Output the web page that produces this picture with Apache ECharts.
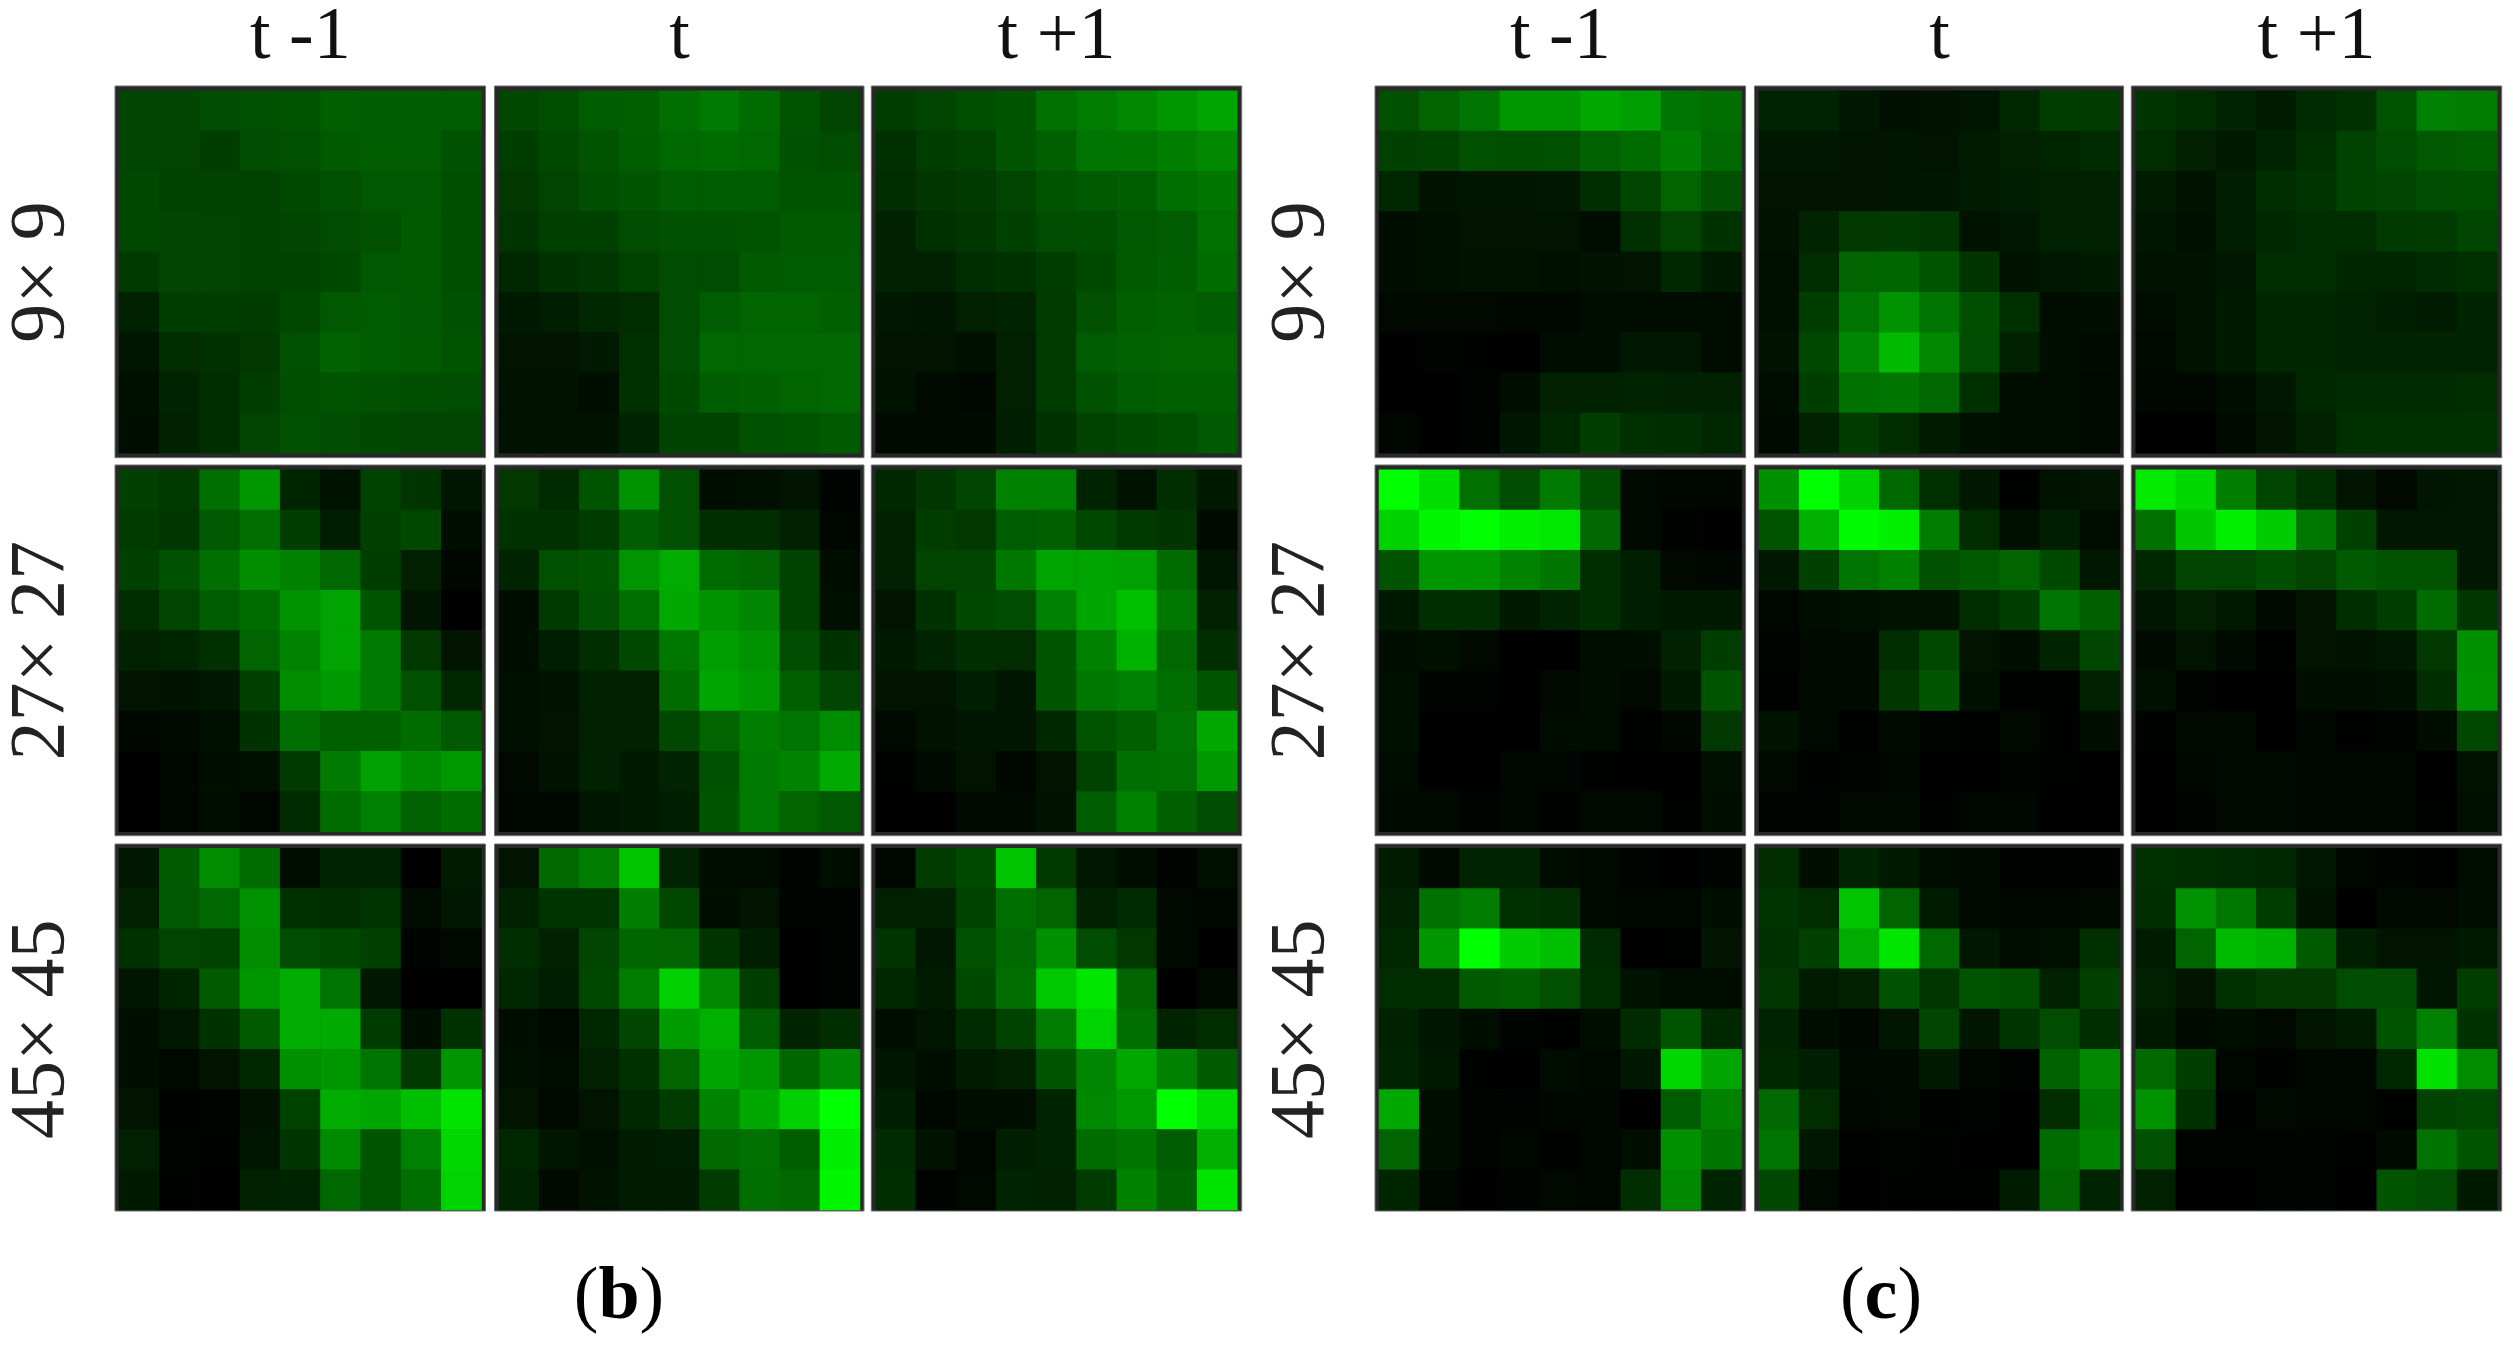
<!DOCTYPE html>
<html><head><meta charset="utf-8">
<style>html,body{margin:0;padding:0;background:#fff}#c{width:2513px;height:1350px}</style>
<script src="https://cdn.jsdelivr.net/npm/echarts@6/dist/echarts.min.js"></script>
</head><body><div id="c"></div>
<script>
const columnLabels = ['t -1', 't', 't +1'];
const rowLabels = ['9\u00d7 9', '27\u00d7 27', '45\u00d7 45'];
const cellIndex = ['0','1','2','3','4','5','6','7','8'];

// Group (b): green intensity 0-255, each row of cells top to bottom
const b9prev = [
[70,70,76,80,84,96,92,92,92],[70,68,62,76,80,90,94,92,82],[72,66,66,66,74,80,88,88,78],
[72,70,68,66,70,76,80,90,78],[58,70,68,66,66,74,88,90,78],[34,62,62,60,72,88,92,88,82],
[22,44,50,56,80,98,92,90,84],[16,36,46,62,78,84,80,78,76],[14,34,46,68,80,76,72,68,68]];
const b9cur = [
[72,78,92,96,110,122,108,84,68],[62,74,84,94,104,108,104,82,76],[56,68,78,86,92,92,92,84,84],
[52,64,64,76,82,82,84,90,90],[40,50,54,66,76,76,90,92,92],[26,30,40,44,76,92,100,100,96],
[20,20,26,48,76,104,104,104,104],[18,18,14,48,74,92,96,100,104],[18,18,18,36,66,66,80,84,90]];
const b9next = [
[62,68,78,86,112,124,136,150,164],[48,62,66,84,96,116,118,126,136],[44,54,58,68,84,90,94,110,118],
[34,48,54,64,76,78,88,92,112],[34,34,46,50,62,74,90,94,108],[24,22,32,36,60,80,96,98,92],
[20,20,16,32,60,92,98,100,100],[18,10,6,32,60,82,92,96,96],[10,10,10,30,50,66,74,78,88]];
const b27prev = [
[64,58,110,150,38,18,66,52,22],[60,54,88,110,62,30,64,72,14],[64,82,110,142,130,104,62,32,6],
[44,68,92,108,146,164,84,22,0],[34,38,48,100,132,164,122,56,20],[20,18,24,64,140,152,122,80,40],
[6,10,16,50,110,96,96,108,88],[0,6,14,16,58,122,160,138,152],[0,6,14,6,42,108,128,98,108]];
const b27cur = [
[56,42,84,146,80,14,16,20,4],[50,50,60,92,80,46,44,34,6],[36,80,86,148,172,108,100,66,14],
[14,58,82,110,168,146,134,66,16],[14,30,46,72,120,158,146,76,50],[16,18,34,32,108,166,154,96,70],
[16,20,32,34,72,100,126,116,140],[8,18,34,26,36,82,122,132,170],[6,6,22,26,30,86,122,100,88]];
const b27next = [
[40,54,70,130,128,36,18,46,26],[34,62,56,92,96,72,58,52,10],[32,68,70,120,164,164,160,108,22],
[20,50,72,76,128,166,190,120,34],[26,36,46,44,86,130,178,104,46],[20,20,30,22,86,120,128,110,84],
[8,18,22,22,40,84,96,116,168],[2,10,20,6,20,66,110,112,152],[0,0,10,10,18,92,130,96,76]];
const b45prev = [
[24,90,140,108,14,36,36,0,28],[32,88,104,146,50,46,52,12,24],[50,68,66,142,76,72,64,4,8],
[22,38,90,150,172,116,24,0,0],[14,24,50,90,172,170,60,14,50],[14,8,20,40,144,150,116,58,148],
[20,2,4,18,66,172,166,190,228],[32,4,2,22,52,138,86,128,216],[26,2,0,32,36,104,84,110,212]];
const b45cur = [
[20,106,124,196,36,14,12,4,14],[34,52,52,126,72,14,20,4,4],[46,34,70,102,100,52,30,0,4],
[40,30,72,124,208,136,62,0,4],[14,8,40,70,156,176,92,36,46],[16,12,32,50,100,166,150,102,134],
[20,10,20,40,60,132,168,208,255],[40,22,16,28,30,106,112,94,236],[36,10,18,28,28,60,110,104,245]];
const b45next = [
[6,60,74,196,58,24,14,4,16],[32,34,66,110,100,32,42,8,6],[52,24,80,104,144,76,56,8,0],
[40,28,74,110,200,230,100,0,10],[14,22,42,66,124,212,110,36,44],[22,14,28,34,86,134,168,130,90],
[30,6,14,14,36,136,152,255,220],[42,18,6,30,36,108,118,92,176],[46,4,8,36,34,60,130,98,228]];

// Group (c)
const c9prev = [
[80,100,116,150,150,168,158,116,110],[64,66,80,78,80,98,108,126,104],[40,18,22,22,24,46,70,100,80],
[14,16,20,20,20,12,48,68,50],[14,16,18,18,16,18,20,40,26],[8,8,8,6,6,12,12,12,12],
[0,4,2,0,12,14,24,24,12],[0,0,4,14,32,34,36,34,34],[6,0,4,22,40,62,48,46,40]];
const c9cur = [
[36,36,24,16,18,22,40,62,60],[24,24,20,22,20,28,32,38,42],[20,20,20,22,22,28,30,32,32],
[18,36,56,58,54,18,24,34,34],[16,44,100,102,84,52,18,24,26],[16,62,116,146,116,78,48,12,14],
[18,72,134,185,136,76,34,14,10],[12,62,112,118,104,48,14,12,8],[10,34,60,44,28,16,12,12,8]];
const c9next = [
[52,44,36,28,42,50,84,128,124],[44,32,26,36,48,66,76,88,94],[28,18,30,46,52,66,70,76,78],
[22,16,30,40,46,46,58,60,70],[18,18,24,44,44,38,38,42,48],[12,18,26,38,38,36,30,28,36],
[8,18,26,38,38,36,36,36,36],[6,6,14,24,40,42,42,42,46],[0,0,10,20,32,48,50,50,50]];
const c27prev = [
[255,222,112,76,122,78,8,6,6],[210,245,255,240,232,104,8,2,0],[84,150,150,132,118,46,30,8,6],
[26,46,46,26,36,46,30,26,26],[14,16,8,0,0,14,14,34,62],[16,4,4,0,8,14,8,26,84],
[16,0,0,0,12,12,2,6,56],[12,0,0,6,6,2,0,0,16],[10,10,4,6,2,8,8,2,14]];
const c27cur = [
[145,255,210,104,48,24,2,18,20],[84,176,250,240,124,44,16,30,12],[24,64,116,130,82,90,100,74,24],
[6,14,16,18,18,44,62,116,96],[4,8,10,46,72,20,14,36,70],[2,10,10,54,86,16,2,2,32],
[18,8,2,10,4,2,8,2,14],[8,2,4,6,0,0,4,2,0],[4,4,8,8,2,6,6,0,0]];
const c27next = [
[235,216,126,70,48,20,8,22,24],[112,198,240,205,120,64,24,24,24],[40,68,68,78,68,90,84,84,24],
[22,32,26,10,20,46,62,108,54],[10,20,10,2,20,18,24,56,144],[16,4,0,0,14,12,16,46,146],
[2,8,8,0,6,2,4,12,72],[0,6,10,8,6,6,6,0,18],[0,4,8,8,6,6,6,2,16]];
const c45prev = [
[28,10,36,36,12,8,4,0,4],[34,112,124,50,46,8,6,6,14],[40,150,255,205,190,42,0,2,20],
[44,44,90,96,80,44,18,12,12],[34,22,14,4,2,14,42,84,40],[36,26,2,0,12,8,24,215,166],
[168,14,4,4,6,6,0,92,130],[100,14,4,6,2,6,14,144,118],[38,6,0,4,8,6,46,136,36]];
const c45cur = [
[44,14,36,26,12,10,2,2,2],[52,44,196,100,28,8,6,6,8],[48,64,172,230,104,24,12,16,48],
[54,28,34,82,54,84,78,34,64],[36,12,6,22,70,22,52,76,44],[40,30,10,10,26,6,4,98,136],
[104,44,6,8,2,4,0,44,120],[116,24,2,4,2,0,0,108,132],[72,8,0,2,2,2,28,100,36]];
const c45next = [
[48,44,42,40,24,6,4,2,12],[46,146,120,62,18,0,10,8,14],[28,100,186,178,90,30,20,20,26],
[32,20,48,56,56,76,76,22,62],[26,10,14,8,20,28,84,128,50],[106,62,6,2,6,6,40,225,140],
[146,50,2,8,6,6,2,66,72],[80,4,4,4,4,2,10,114,86],[32,0,0,4,4,0,84,76,26]];

const panels = [
  [[b9prev,b9cur,b9next],[b27prev,b27cur,b27next],[b45prev,b45cur,b45next]],
  [[c9prev,c9cur,c9next],[c27prev,c27cur,c27next],[c45prev,c45cur,c45next]]
];

// Layout (pixels)
const FONT = '"Liberation Serif", serif';
const innerX = [[[119,481.6],[499,860],[875.7,1237.3]],[[1379,1741.6],[1759,2120],[2135.7,2497.3]]];
const frameX = [[[115,485.5],[494.5,864],[871.3,1241.7]],[[1375,1745.6],[1754.5,2123.6],[2131.3,2501.7]]];
const innerY = [[90.7,453.3],[469.7,831.7],[848.3,1210]];
const frameY = [[86,457.7],[465,835.7],[844,1211]];

const grid=[], xAxis=[], yAxis=[], series=[], graphic=[];
panels.forEach((grp,g)=>grp.forEach((row,r)=>row.forEach((vals,c)=>{
  const i = grid.length;
  const [x0,x1]=innerX[g][c], [y0,y1]=innerY[r];
  grid.push({left:x0, top:y0, width:x1-x0, height:y1-y0, show:false, outerBoundsMode:'none'});
  xAxis.push({type:'category', gridIndex:i, position:'top', data:cellIndex,
    axisLine:{show:false}, axisTick:{show:false}, axisLabel:{show:false}, splitLine:{show:false},
    name: r===0 ? columnLabels[c] : '', nameLocation:'middle', nameGap:15,
    nameTextStyle:{fontFamily:FONT, fontSize:74, color:'#111'}});
  yAxis.push({type:'category', gridIndex:i, inverse:true, data:cellIndex,
    axisLine:{show:false}, axisTick:{show:false}, axisLabel:{show:false}, splitLine:{show:false},
    name: c===0 ? rowLabels[r] : '', nameLocation:'middle', nameGap:37, nameRotate:90,
    nameTextStyle:{fontFamily:FONT, fontSize:78, color:'#222'}});
  const data=[]; vals.forEach((rw,yi)=>rw.forEach((v,xi)=>data.push([xi,yi,v])));
  series.push({type:'heatmap', xAxisIndex:i, yAxisIndex:i, data, z:2, silent:true,
    progressive:0, emphasis:{disabled:true}, itemStyle:{borderWidth:0}});
  const [fx0,fx1]=frameX[g][c], [fy0,fy1]=frameY[r];
  graphic.push({type:'rect', z:0, silent:true,
    shape:{x:fx0, y:fy0, width:fx1-fx0, height:fy1-fy0},
    style:{fill:'#282828', stroke:'#707070', lineWidth:1}});
})));

const capStyle = {fontFamily:FONT, fontSize:74, fill:'#000', align:'center', verticalAlign:'middle'};
[['b',619],['c',1881]].forEach(([t,x])=>graphic.push({type:'text', z:5, silent:true, x, y:1299,
  style:{...capStyle, text:'(' + '{k|'+t+'}' + ')',
    rich:{k:{fontFamily:FONT, fontSize:74, fontWeight:'bold', fill:'#000'}}}}));

const chart = echarts.init(document.getElementById('c'), null, {renderer:'canvas'});
chart.setOption({
  animation:false, backgroundColor:'#fff', grid, xAxis, yAxis, series, graphic,
  tooltip:{show:false},
  visualMap:{type:'continuous', show:false, min:0, max:255, calculable:false,
    seriesIndex:series.map((_,i)=>i), inRange:{color:['#000000','#00ff00']}}
});
</script></body></html>
